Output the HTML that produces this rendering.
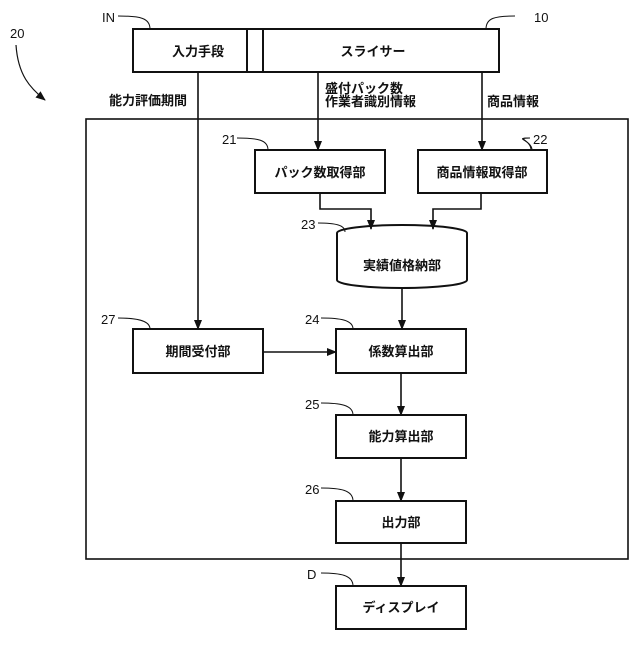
<!DOCTYPE html>
<html><head><meta charset="utf-8"><style>
html,body{margin:0;padding:0;background:#fff;}
svg text{font-family:"Liberation Sans","Noto Sans CJK JP",sans-serif;font-size:13px;fill:#111;}
.b{font-weight:bold;}
</style></head><body>
<svg width="640" height="640" viewBox="0 0 640 640" xmlns="http://www.w3.org/2000/svg">
<defs><marker id="a" markerWidth="10" markerHeight="10" refX="9" refY="5" orient="auto" markerUnits="userSpaceOnUse"><path d="M0,1 L10,5 L0,9 Z" fill="#111"/></marker></defs>
<g fill="none" stroke="#111" stroke-width="2">
<rect x="86" y="119" width="542" height="440" stroke-width="1.6"/>
<rect x="133" y="29" width="130" height="43"/>
<rect x="247" y="29" width="252" height="43"/>
<rect x="255" y="150" width="130" height="43"/>
<rect x="418" y="150" width="129" height="43"/>
<rect x="133" y="329" width="130" height="44"/>
<rect x="336" y="329" width="130" height="44"/>
<rect x="336" y="415" width="130" height="43"/>
<rect x="336" y="501" width="130" height="42"/>
<rect x="336" y="586" width="130" height="43"/>
<path d="M337,233 A65,8 0 0 1 467,233 L467,280 A65,8 0 0 1 337,280 Z" fill="#fff"/>
</g>
<g fill="none" stroke="#111" stroke-width="1.6">
<path d="M198,72 V329" marker-end="url(#a)"/>
<path d="M318,72 V150" marker-end="url(#a)"/>
<path d="M482,72 V150" marker-end="url(#a)"/>
<path d="M320,193 V209 H371 V229" marker-end="url(#a)"/>
<path d="M481,193 V209 H433 V229" marker-end="url(#a)"/>
<path d="M402,288 V329" marker-end="url(#a)"/>
<path d="M263,352 H336" marker-end="url(#a)"/>
<path d="M401,373 V415" marker-end="url(#a)"/>
<path d="M401,458 V501" marker-end="url(#a)"/>
<path d="M401,543 V586" marker-end="url(#a)"/>
</g>
<g fill="none" stroke="#111" stroke-width="1">
<path d="M118,16 C140,16 150,18 150,29"/>
<path d="M515,16 C495,16 486,18 486,29"/>
<path d="M237,138 C258,138 268,140 268,150"/>
<path d="M530,138 C512,138 532,140 532,150" />
<path d="M530,138 C515,138 531,140 531,150"/>
<path d="M318,223 C335,223 345,225 345,232"/>
<path d="M118,318 C135,318 150,320 150,329"/>
<path d="M321,318 C340,318 353,320 353,329"/>
<path d="M321,403 C340,403 353,405 353,415"/>
<path d="M321,488 C340,488 353,490 353,501"/>
<path d="M321,573 C340,573 353,575 353,586"/>
<path d="M16,45 C18,75 30,88 45,100" stroke-width="1.2" marker-end="url(#a)"/>
</g>
<text x="102" y="22">IN</text>
<text x="534" y="22">10</text>
<text x="10" y="38">20</text>
<text x="222" y="144">21</text>
<text x="533" y="144">22</text>
<text x="301" y="229">23</text>
<text x="101" y="324">27</text>
<text x="305" y="324">24</text>
<text x="305" y="409">25</text>
<text x="305" y="494">26</text>
<text x="307" y="579">D</text>
<text class="b" x="198" y="56" text-anchor="middle">入力手段</text>
<text class="b" x="373" y="56" text-anchor="middle">スライサー</text>
<text class="b" x="109" y="105">能力評価期間</text>
<text class="b" x="325" y="93">盛付パック数</text>
<text class="b" x="325" y="106">作業者識別情報</text>
<text class="b" x="487" y="106">商品情報</text>
<text class="b" x="320" y="177" text-anchor="middle">パック数取得部</text>
<text class="b" x="482" y="177" text-anchor="middle">商品情報取得部</text>
<text class="b" x="402" y="270" text-anchor="middle">実績値格納部</text>
<text class="b" x="198" y="356" text-anchor="middle">期間受付部</text>
<text class="b" x="401" y="356" text-anchor="middle">係数算出部</text>
<text class="b" x="401" y="441" text-anchor="middle">能力算出部</text>
<text class="b" x="401" y="527" text-anchor="middle">出力部</text>
<text class="b" x="401" y="612" text-anchor="middle">ディスプレイ</text>
</svg>
</body></html>
